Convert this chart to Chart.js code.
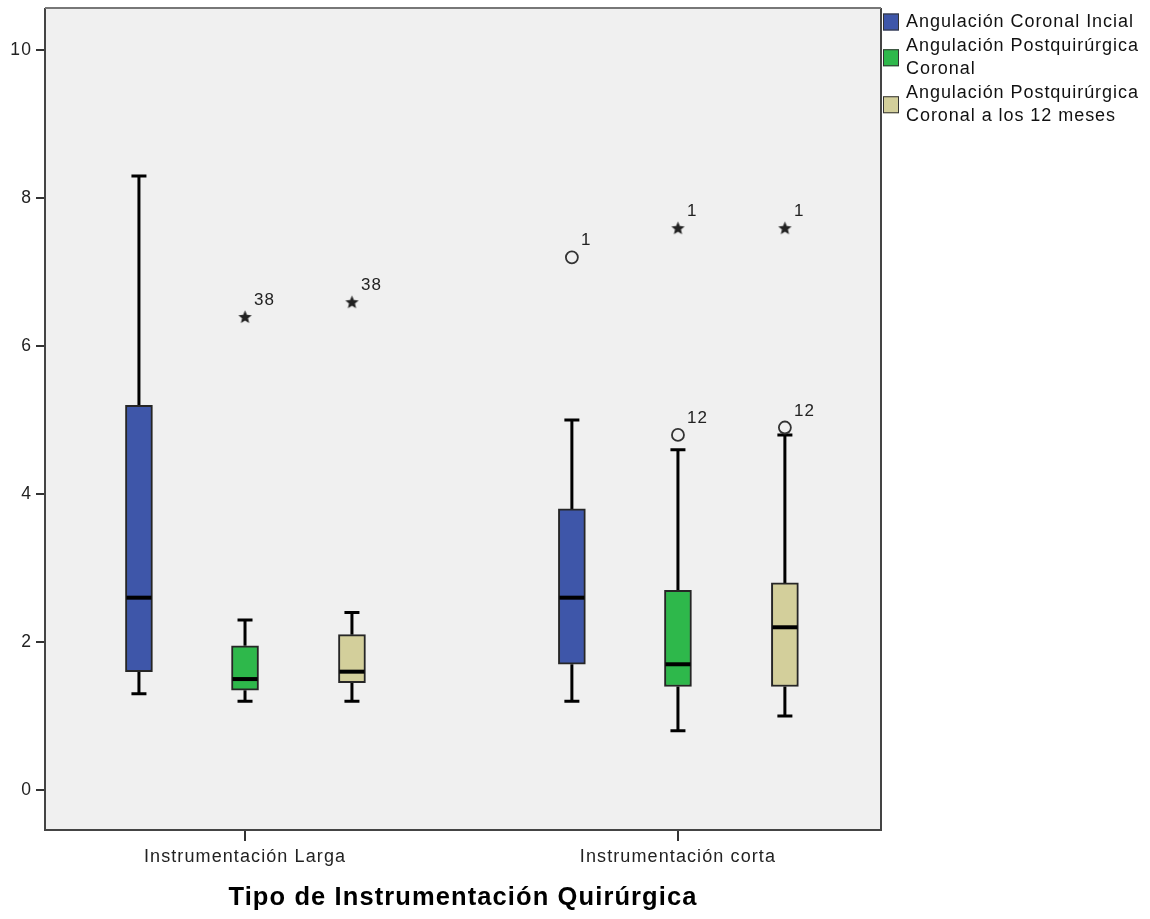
<!DOCTYPE html>
<html>
<head>
<meta charset="utf-8">
<title>Angulación coronal por tipo de instrumentación</title>
<script src="https://cdn.jsdelivr.net/npm/chart.js@4.4.1/dist/chart.umd.min.js"></script>
<style>
  html, body { margin: 0; padding: 0; background: #fff; }
  #wrap { width: 1150px; height: 919px; }
</style>
</head>
<body>
<div id="wrap"><canvas id="boxChart" width="1150" height="919"></canvas></div>
<script>
// Values
const groups = ["Instrumentación Larga", "Instrumentación corta"];
const seriesNames = [
  ["Angulación Coronal Incial"],
  ["Angulación Postquirúrgica", "Coronal"],
  ["Angulación Postquirúrgica", "Coronal a los 12 meses"],
];

// [min, q1, median, q3, max] for each group
const coronalInicial = [[1.3, 1.6, 2.6, 5.2, 8.3], [1.2, 1.7, 2.6, 3.8, 5.0]];
const postquirurgica = [[1.2, 1.35, 1.5, 1.95, 2.3], [0.8, 1.4, 1.7, 2.7, 4.6]];
const postquirurgica12 = [[1.2, 1.45, 1.6, 2.1, 2.4], [1.0, 1.4, 2.2, 2.8, 4.8]];

// outliers: [group, value, case number]
const inicialCircles = [[1, 7.2, "1"]];
const inicialStars = [];
const postCircles = [[1, 4.8, "12"]];
const postStars = [[0, 6.4, "38"], [1, 7.6, "1"]];
const post12Circles = [[1, 4.9, "12"]];
const post12Stars = [[0, 6.6, "38"], [1, 7.6, "1"]];

const yTicks = [0, 2, 4, 6, 8, 10];

// Styling
const colors = ["#3e56a9", "#2eb84b", "#d3cf9b"];
const offsets = [-0.245, 0, 0.247];
const FONT = '"Liberation Sans", Arial, sans-serif';

const stats = [coronalInicial, postquirurgica, postquirurgica12];
const circles = [inicialCircles, postCircles, post12Circles];
const stars = [inicialStars, postStars, post12Stars];

function makeStar(size) {
  const c = document.createElement("canvas");
  c.width = size;
  c.height = size;
  const g = c.getContext("2d");
  const r = size / 2;
  g.beginPath();
  for (let i = 0; i < 10; i++) {
    const rad = i % 2 ? r * 0.42 : r - 0.5;
    const a = -Math.PI / 2 + (i * Math.PI) / 5;
    const px = r + rad * Math.cos(a);
    const py = r + 0.8 + rad * Math.sin(a);
    if (i) g.lineTo(px, py);
    else g.moveTo(px, py);
  }
  g.closePath();
  g.fillStyle = "#222";
  g.fill();
  return c;
}
const starImg = makeStar(15);

// Datasets: boxes as floating bars, outliers as scatter points
const datasets = [];
stats.forEach((s, si) => {
  datasets.push({
    type: "bar",
    label: seriesNames[si].join(" "),
    data: s.map((st, gi) => ({ x: gi + offsets[si], y: [st[1], st[3]] })),
    backgroundColor: colors[si],
    borderColor: "#262626",
    borderWidth: 2,
    borderSkipped: false,
    barThickness: 27,
    grouped: false,
  });
});
stats.forEach((s, si) => {
  datasets.push({
    type: "scatter",
    label: "circles" + si,
    outlier: true,
    data: circles[si].map((o) => ({ x: o[0] + offsets[si], y: o[1], tag: o[2] })),
    pointStyle: "circle",
    radius: 6,
    borderWidth: 1.8,
    borderColor: "#333",
    backgroundColor: "rgba(0,0,0,0)",
  });
  datasets.push({
    type: "scatter",
    label: "stars" + si,
    outlier: true,
    data: stars[si].map((o) => ({ x: o[0] + offsets[si], y: o[1], tag: o[2] })),
    pointStyle: starImg,
    radius: 7,
  });
});

const boxPlugin = {
  id: "boxExtras",
  beforeDraw(chart) {
    const { ctx, chartArea: a } = chart;
    ctx.letterSpacing = "1.1px";
    ctx.save();
    ctx.fillStyle = "#fff";
    ctx.fillRect(0, 0, chart.width, chart.height);
    ctx.fillStyle = "#f0f0f0";
    ctx.fillRect(a.left, a.top, a.right - a.left, a.bottom - a.top);
    ctx.restore();
  },
  beforeDatasetsDraw(chart) {
    // whiskers + caps
    const ctx = chart.ctx;
    const xs = chart.scales.x;
    const ys = chart.scales.y;
    ctx.save();
    ctx.strokeStyle = "#000";
    ctx.lineWidth = 3;
    stats.forEach((s, si) => {
      s.forEach((st, gi) => {
        const cx = xs.getPixelForValue(gi + offsets[si]);
        const [mn, q1, , q3, mx] = st.map((v) => ys.getPixelForValue(v));
        ctx.beginPath();
        ctx.moveTo(cx, q3);
        ctx.lineTo(cx, mx);
        ctx.moveTo(cx, q1);
        ctx.lineTo(cx, mn);
        ctx.moveTo(cx - 7.5, mx);
        ctx.lineTo(cx + 7.5, mx);
        ctx.moveTo(cx - 7.5, mn);
        ctx.lineTo(cx + 7.5, mn);
        ctx.stroke();
      });
    });
    ctx.restore();
  },
  afterDatasetsDraw(chart) {
    const ctx = chart.ctx;
    const ys = chart.scales.y;
    ctx.save();
    // medians
    ctx.strokeStyle = "#000";
    ctx.lineWidth = 4;
    stats.forEach((s, si) => {
      const meta = chart.getDatasetMeta(si);
      s.forEach((st, gi) => {
        const bar = meta.data[gi];
        const y = ys.getPixelForValue(st[2]);
        ctx.beginPath();
        ctx.moveTo(bar.x - bar.width / 2 + 1, y);
        ctx.lineTo(bar.x + bar.width / 2 - 1, y);
        ctx.stroke();
      });
    });
    // outlier case numbers
    ctx.font = "17px " + FONT;
    ctx.letterSpacing = "1.1px";
    ctx.fillStyle = "#222";
    ctx.textBaseline = "alphabetic";
    chart.data.datasets.forEach((ds, i) => {
      if (!ds.outlier) return;
      chart.getDatasetMeta(i).data.forEach((pt, j) => {
        ctx.fillText(ds.data[j].tag, pt.x + 9, pt.y - 12);
      });
    });
    // frame
    const a = chart.chartArea;
    ctx.lineWidth = 2;
    ctx.strokeStyle = "#444";
    ctx.beginPath();
    ctx.moveTo(a.left, a.top);
    ctx.lineTo(a.left, a.bottom);
    ctx.lineTo(a.right, a.bottom);
    ctx.lineTo(a.right, a.top);
    ctx.stroke();
    ctx.strokeStyle = "#777";
    ctx.beginPath();
    ctx.moveTo(a.left, a.top);
    ctx.lineTo(a.right, a.top);
    ctx.stroke();
    ctx.restore();
  },
  afterDraw(chart) {
    // legend on the right, outside the plot
    const ctx = chart.ctx;
    const a = chart.chartArea;
    const x0 = a.right + 2;
    const lineH = 22.5;
    let y = a.top + 14;
    ctx.save();
    ctx.font = "18px " + FONT;
    ctx.letterSpacing = "0.95px";
    ctx.textBaseline = "middle";
    seriesNames.forEach((lines, si) => {
      const last = y + (lines.length - 1) * lineH;
      const mid = (y + last) / 2;
      ctx.fillStyle = colors[si];
      ctx.fillRect(x0, mid - 8.5, 16, 17);
      ctx.strokeStyle = "#333";
      ctx.lineWidth = 1;
      ctx.strokeRect(x0 + 0.5, mid - 8, 15, 16);
      ctx.fillStyle = "#111";
      lines.forEach((t, k) => ctx.fillText(t, x0 + 23, y + k * lineH));
      y = last + 24.5;
    });
    ctx.restore();
  },
};

new Chart(document.getElementById("boxChart"), {
  type: "bar",
  data: { datasets },
  options: {
    responsive: false,
    animation: false,
    devicePixelRatio: 1,
    layout: { padding: { top: 7, right: 269, left: 0, bottom: 0 } },
    plugins: { legend: { display: false }, tooltip: { enabled: false } },
    scales: {
      x: {
        type: "linear",
        min: -0.462,
        max: 1.469,
        offset: false,
        afterFit: (scale) => {
          scale.height = 89;
          scale.paddingLeft = 0;
          scale.paddingRight = 0;
        },
        afterBuildTicks: (scale) => {
          scale.ticks = groups.map((g, i) => ({ value: i }));
        },
        ticks: {
          callback: (v) => groups[v] || "",
          font: { family: FONT, size: 18 },
          color: "#222",
          padding: 5,
          maxRotation: 0,
        },
        grid: { offset: false, drawOnChartArea: false, tickLength: 11, color: "#333", lineWidth: 2 },
        border: { display: false },
        title: {
          display: true,
          text: "Tipo de Instrumentación Quirúrgica",
          font: { family: FONT, size: 25.5, weight: "bold" },
          color: "#000",
          padding: { top: 0, bottom: 6 },
        },
      },
      y: {
        min: -0.54,
        max: 10.57,
        afterFit: (scale) => {
          scale.width = 45;
          scale.paddingTop = 0;
          scale.paddingBottom = 0;
        },
        afterBuildTicks: (scale) => {
          scale.ticks = yTicks.map((v) => ({ value: v }));
        },
        ticks: {
          font: { family: FONT, size: 17.5 },
          color: "#222",
          padding: 4,
        },
        grid: { drawOnChartArea: false, tickLength: 9, color: "#333", lineWidth: 2 },
        border: { display: false },
      },
    },
  },
  plugins: [boxPlugin],
});
</script>
</body>
</html>
